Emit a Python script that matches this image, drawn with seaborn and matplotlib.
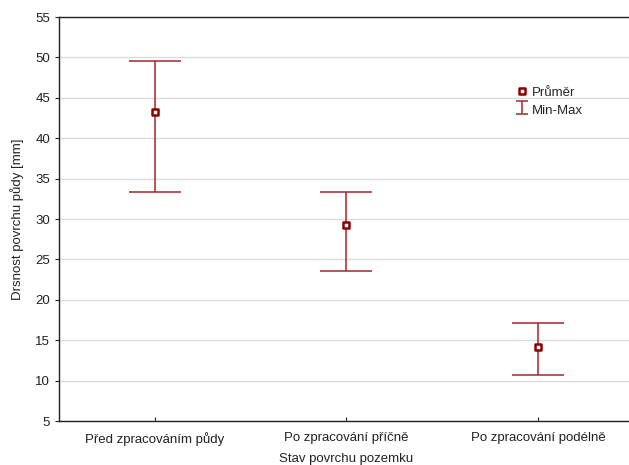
import matplotlib
matplotlib.use("Agg")
import matplotlib.pyplot as plt
import seaborn as sns
import pandas as pd

categories = ["Před zpracováním půdy", "Po zpracování příčně", "Po zpracování podélně"]
mean_vals = [43.2, 29.3, 14.2]
min_vals = [33.3, 23.6, 10.7]
max_vals = [49.5, 33.3, 17.1]
y_ticks = list(range(5, 56, 5))

df = pd.DataFrame({"stav": categories, "prumer": mean_vals,
                   "min": min_vals, "max": max_vals})

sns.set_theme(style="white")
plt.rcParams["font.family"] = ["Liberation Sans", "DejaVu Sans"]

fig = plt.figure(figsize=(6.29, 4.65), dpi=100)
ax = fig.add_axes([0.0938, 0.0946, 0.914, 0.8688])

err_color = "#a3282c"
pos = list(range(len(categories)))
ax.errorbar(pos, df["prumer"],
            yerr=[df["prumer"] - df["min"], df["max"] - df["prumer"]],
            fmt="none", ecolor=err_color, elinewidth=1.1, capsize=19,
            capthick=1.1, zorder=2)
# proxy for the legend with small caps
ax.errorbar([float("nan")], [float("nan")], yerr=[1.0], fmt="none",
            ecolor=err_color, elinewidth=1.1, capsize=4, capthick=1.1,
            label="Min-Max")
sns.scatterplot(data=df, x="stav", y="prumer", ax=ax, marker="s", s=22,
                facecolor="white", edgecolor="#8b0000", linewidth=1.8,
                label="Průměr", zorder=3)

ax.set_xlim(-0.5, 2.5)
ax.set_ylim(5, 55)
ax.set_yticks(y_ticks)
ax.yaxis.grid(True, color="#dcdcdc", linewidth=1)
ax.set_axisbelow(True)

for s in ["left", "top", "bottom"]:
    ax.spines[s].set_color("#222222")
    ax.spines[s].set_linewidth(1)
ax.spines["right"].set_visible(False)

ax.tick_params(axis="y", direction="out", length=3, width=0.8, labelsize=9.5,
               left=True, colors="#222222")
ax.tick_params(axis="x", direction="in", length=3, width=0.8, labelsize=9.5,
               bottom=True, pad=8, colors="#222222")

ax.set_xlabel("Stav povrchu pozemku", fontsize=9.5, labelpad=5, color="#222222")
ax.set_ylabel("Drsnost povrchu půdy [mm]", fontsize=9.5, labelpad=8, color="#222222")

h, l = ax.get_legend_handles_labels()
order = [l.index("Průměr"), l.index("Min-Max")]
ax.legend([h[i] for i in order], [l[i] for i in order], loc="upper left",
          bbox_to_anchor=(0.775, 0.862), frameon=False, fontsize=9.5,
          handlelength=0.8, handleheight=1.3, handletextpad=0.4,
          labelspacing=0.2)

fig.savefig("out.png", dpi=100)
